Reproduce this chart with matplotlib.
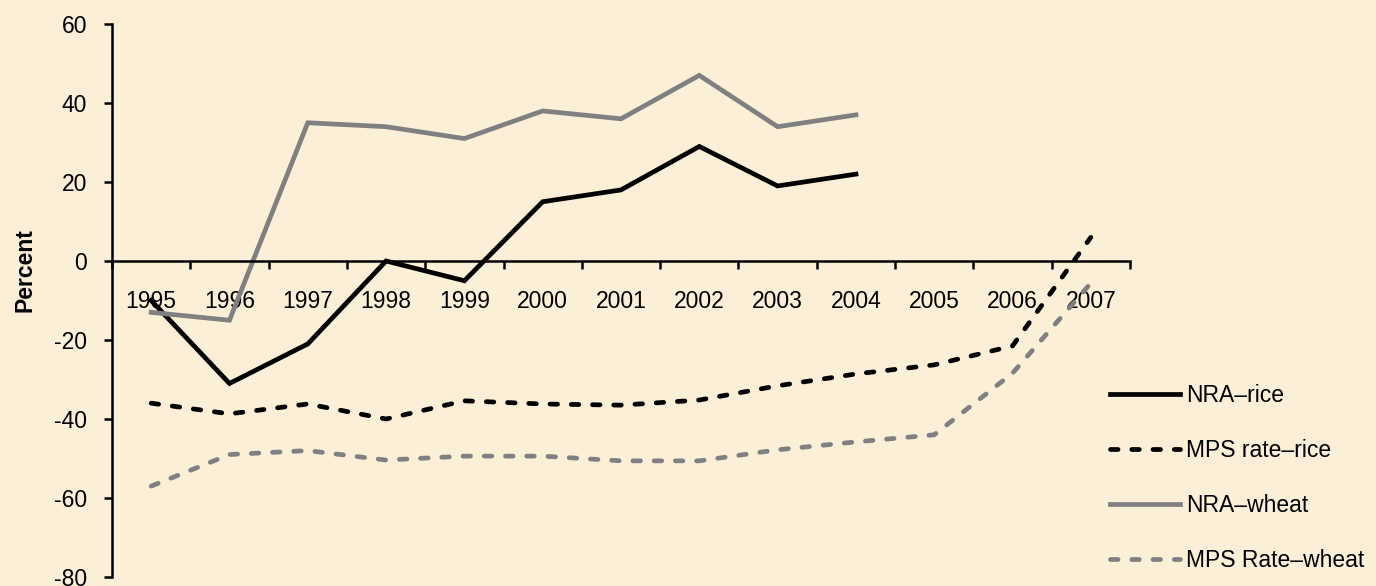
import matplotlib
matplotlib.use("Agg")
import matplotlib.pyplot as plt
from matplotlib.ticker import FixedLocator, NullFormatter
import numpy as np

plt.rcParams['font.family'] = ['Liberation Sans', 'DejaVu Sans']
plt.rcParams['axes.unicode_minus'] = False

years = ['1995', '1996', '1997', '1998', '1999', '2000', '2001',
         '2002', '2003', '2004', '2005', '2006', '2007']

# NRA series stop at 2004
nra_rice = [-10, -31, -21, 0, -5, 15, 18, 29, 19, 22]
nra_wheat = [-13, -15, 35, 34, 31, 38, 36, 47, 34, 37]
mps_rice = [-36, -38.7, -36.2, -40, -35.4, -36.2, -36.5, -35.2,
            -31.6, -28.6, -26.3, -21.5, 6]
mps_wheat = [-57, -49, -48, -50.4, -49.4, -49.4, -50.6, -50.6,
             -47.8, -45.8, -44, -28.4, -5.6]

bg = '#FBF0D7'
grey = '#808080'
fs = 16.5

fig = plt.figure(figsize=(13.76, 5.86), dpi=100, facecolor=bg)
ax = fig.add_axes([0.0814, 0.0154, 0.7398, 0.9436], facecolor='none')

lw = 3.4
dash = (1.6, 2.9)
ax.plot(range(len(nra_rice)), nra_rice, color='black', lw=lw,
        solid_joinstyle='miter', label='NRA\u2013rice')
ax.plot(range(len(mps_rice)), mps_rice, color='black', lw=lw,
        dashes=dash, dash_capstyle='round', label='MPS rate\u2013rice')
ax.plot(range(len(nra_wheat)), nra_wheat, color=grey, lw=lw,
        solid_joinstyle='miter', label='NRA\u2013wheat')
ax.plot(range(len(mps_wheat)), mps_wheat, color=grey, lw=lw,
        dashes=dash, dash_capstyle='round', label='MPS Rate\u2013wheat')

ax.set_xlim(-0.5, len(years) - 0.5)
ax.set_ylim(-80, 60)
ax.set_yticks(np.arange(-80, 61, 20))

# category axis: ticks between categories, labels centred
ax.spines['bottom'].set_position(('data', 0))
ax.xaxis.set_major_locator(FixedLocator(np.arange(-0.5, len(years), 1.0)))
ax.xaxis.set_major_formatter(NullFormatter())
ax.xaxis.set_minor_locator(FixedLocator(np.arange(len(years))))
ax.set_xticklabels(years, minor=True)
ax.tick_params(axis='x', which='major', direction='out', length=6, width=1.8)
ax.tick_params(axis='x', which='minor', length=0, pad=21, labelsize=fs)
ax.tick_params(axis='y', direction='out', length=6, width=1.8,
               labelsize=fs, pad=12)

for s in ['top', 'right']:
    ax.spines[s].set_visible(False)
for s in ['left', 'bottom']:
    ax.spines[s].set_linewidth(1.8)

fig.text(0.018, 0.539, 'Percent', rotation=90, fontsize=fs,
         fontweight='bold', ha='center', va='center')

leg = ax.legend(loc='upper left', bbox_to_anchor=(0.980, 0.349), frameon=False,
                fontsize=fs, handlelength=3.05, handletextpad=0.3,
                labelspacing=1.39, borderaxespad=0, borderpad=0)

fig.savefig('out.png', dpi=100, facecolor=bg)
